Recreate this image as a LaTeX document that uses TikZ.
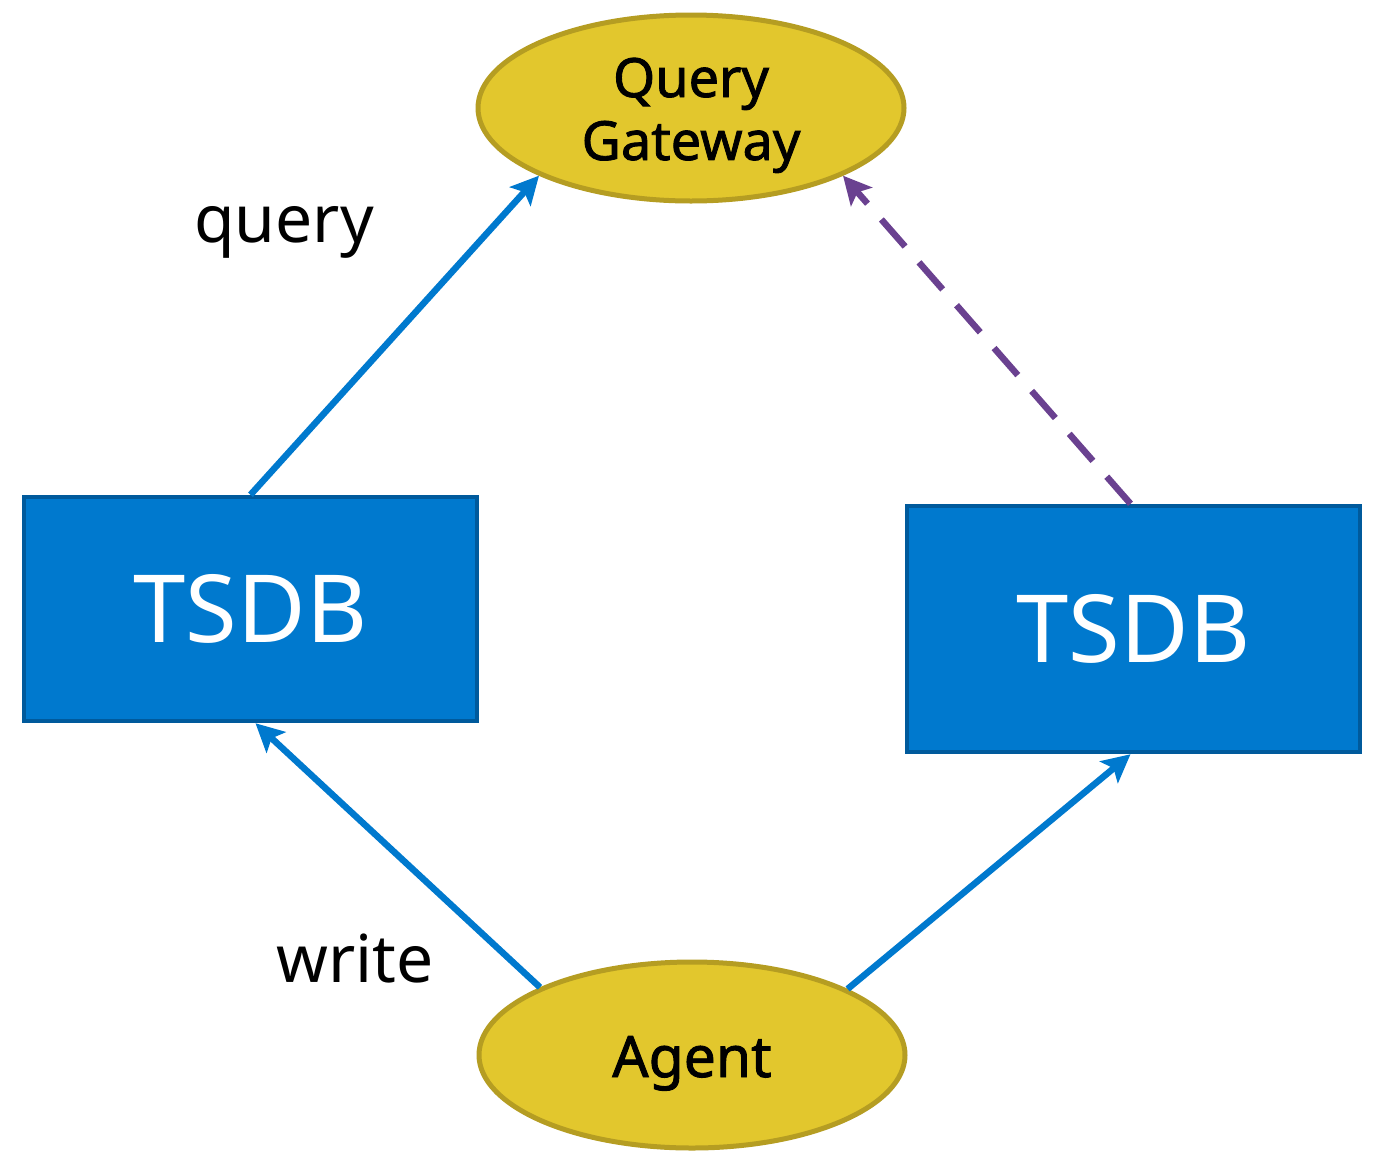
\documentclass[tikz,border=0pt]{standalone}
\usepackage{fontspec}
\setmainfont{Noto Sans}
\newfontfamily\semibold[FakeBold=1.6]{Noto Sans}
\usetikzlibrary{shapes.geometric,arrows.meta}

\definecolor{dbblue}{HTML}{0079CE}
\definecolor{dbedge}{HTML}{005A9C}
\definecolor{goldfill}{HTML}{E2C72D}
\definecolor{goldedge}{HTML}{B59D22}
\definecolor{dashpurple}{HTML}{6A4190}

\tikzset{
  service/.style={ellipse, draw=goldedge, fill=goldfill, line width=5pt,
    minimum width=426pt, minimum height=186pt, inner sep=0pt,
    align=center, text=black},
  dbbox/.style={rectangle, draw=dbedge, fill=dbblue, line width=4.5pt,
    minimum width=453pt, inner sep=0pt, text=white,
    font=\fontsize{94}{110}\selectfont},
  flow/.style={draw=dbblue, line width=6.5pt,
    -{Stealth[length=28pt,width=28pt,inset=6pt]}},
  replica/.style={draw=dashpurple, line width=6.5pt, dash pattern=on 36pt off 21pt,
    -{Stealth[length=28pt,width=28pt,inset=6pt]}},
  caption/.style={text=black, inner sep=0pt, anchor=base,
    font=\fontsize{66}{78}\selectfont}
}

\begin{document}
\begin{tikzpicture}[x=1pt,y=-1pt]
  \useasboundingbox (0,0) rectangle (1376,1152);

  % services (baselines placed explicitly inside the ellipses)
  \node[service, font=\semibold\fontsize{54}{63}\selectfont] (qg) at (691,108)
    {\raisebox{-52pt}[0pt][0pt]{\begin{tabular}[b]{@{}c@{}}Query\\Gateway\end{tabular}}};
  \node[service, font=\semibold\fontsize{57}{66}\selectfont] (agent) at (692,1055)
    {\raisebox{-22pt}[0pt][0pt]{Agent}};

  % storage back ends
  \node[dbbox, minimum height=224pt] (dbl) at (250.5,609) {TSDB};
  \node[dbbox, minimum height=246pt] (dbr) at (1133.5,629) {TSDB};

  % data flows
  \draw[flow] (dbl.north) -- (qg.204.6);
  \draw[flow] (agent.156.2) -- ([xshift=5pt]dbl.south);
  \draw[flow] (agent.23.6) -- ([xshift=-3pt]dbr.south);
  \draw[replica] ([xshift=-3pt]dbr.north) -- (qg.-24.5);

  % labels
  \node[caption] (lq) at (284,242) {query};
  \node[caption] (lw) at (355,982) {write};
\end{tikzpicture}
\end{document}
